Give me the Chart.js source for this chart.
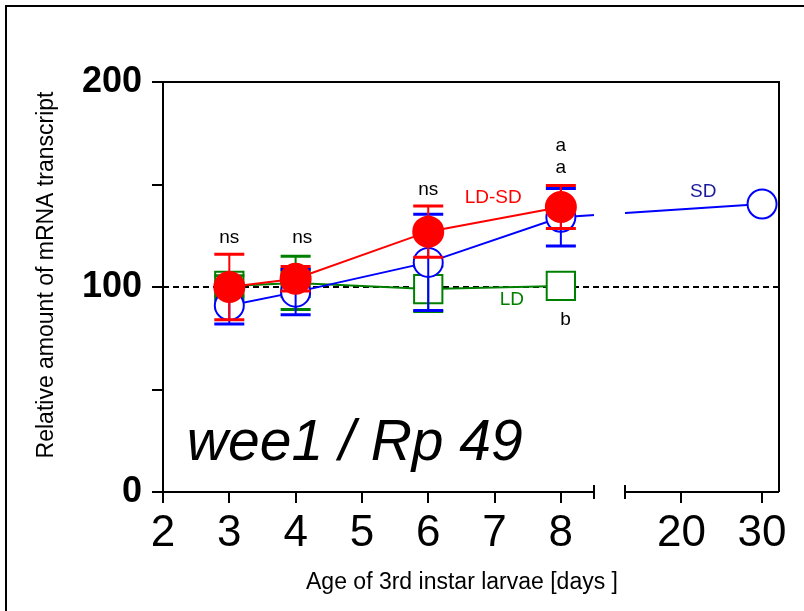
<!DOCTYPE html>
<html>
<head>
<meta charset="utf-8">
<script src="https://cdn.jsdelivr.net/npm/chart.js@4.4.1/dist/chart.umd.min.js"></script>
<style>
  html, body { margin: 0; padding: 0; background: #fff; }
</style>
</head>
<body>
<canvas id="myChart" width="804" height="611"></canvas>
<script>
// data
const days = [3, 4, 6, 8];
const sdDays = [3, 4, 6, 8, 30];
const ldsdValues = [100, 104, 127, 139];
const ldsdErrors = [16, 6, 12.5, 10.5];
const sdValues = [91, 97.5, 112, 134, 140.5];
const sdErrors = [9, 11, 23.5, 14, 0];
const ldValues = [100.5, 102, 99, 100.5];
const ldErrors = [5, 13, 11, 0];
const xTicks = [2, 3, 4, 5, 6, 7, 8, 20, 30];
const yTicks = [0, 50, 100, 150, 200];
const yLabels = ['0', '', '100', '', '200'];
const refLevel = 100;

const FONT = "'Liberation Sans', Arial, sans-serif";
const RED = '#ff0000', BLUE = '#0000ff', GREEN = '#008000', NAVY = '#1a1a9a';

// broken x axis: 2..8.5 | gap | 13..32.1
const segLeftEnd = 8.5, segRightStart = 13;
const gapFracA = 0.6997, gapFracB = 0.75;

class BrokenScale extends Chart.LinearScale {
  gapPixels() {
    const w = this.right - this.left;
    return [this.left + w * gapFracA, this.left + w * gapFracB];
  }
  getPixelForValue(v) {
    const [a, b] = this.gapPixels();
    if (v <= segLeftEnd) return this.left + (v - this.min) / (segLeftEnd - this.min) * (a - this.left);
    if (v >= segRightStart) return b + (v - segRightStart) / (this.max - segRightStart) * (this.right - b);
    return a + (v - segLeftEnd) / (segRightStart - segLeftEnd) * (b - a);
  }
  getValueForPixel(p) {
    const [a, b] = this.gapPixels();
    if (p <= a) return this.min + (p - this.left) / (a - this.left) * (segLeftEnd - this.min);
    if (p >= b) return segRightStart + (p - b) / (this.right - b) * (this.max - segRightStart);
    return segLeftEnd + (p - a) / (b - a) * (segRightStart - segLeftEnd);
  }
  buildTicks() {
    return xTicks.map(v => ({ value: v }));
  }
}
BrokenScale.id = 'broken';
BrokenScale.defaults = Chart.LinearScale.defaults;
Chart.register(BrokenScale);

const notes = [
  ['ns', 3, 124], ['ns', 4.1, 124], ['ns', 6, 147.3],
  ['a', 8, 169], ['a', 8, 158], ['b', 8.07, 84]
];
const seriesNotes = [
  ['LD-SD', 6.98, 143.4, RED], ['SD', 22.7, 146.3, NAVY], ['LD', 7.26, 93.7, GREEN]
];

const decor = {
  id: 'decor',
  beforeDatasetsDraw(chart) {
    const { ctx, chartArea: ca, scales: { y } } = chart;
    const py = y.getPixelForValue(refLevel);
    ctx.save();
    ctx.strokeStyle = '#000';
    ctx.lineWidth = 2;
    ctx.setLineDash([6, 4]);
    ctx.beginPath();
    ctx.moveTo(ca.left, py);
    ctx.lineTo(ca.right, py);
    ctx.stroke();
    ctx.restore();
  },
  beforeDatasetDraw(chart, args) {
    if (args.index !== 1) return;
    const { ctx, scales: { x } } = chart;
    const [a, b] = x.gapPixels();
    ctx.save();
    ctx.beginPath();
    ctx.rect(0, 0, a, chart.height);
    ctx.rect(b, 0, chart.width - b, chart.height);
    ctx.clip();
  },
  afterDatasetDraw(chart, args) {
    const { ctx, scales: { y } } = chart;
    if (args.index === 1) ctx.restore();
    const ds = chart.data.datasets[args.index];
    if (!ds.errorBars) return;
    ctx.save();
    ctx.strokeStyle = ds.borderColor;
    args.meta.data.forEach((pt, i) => {
      const e = ds.errorBars[i];
      if (!e) return;
      const v = ds.data[i].y;
      const yt = y.getPixelForValue(v + e), yb = y.getPixelForValue(v - e);
      ctx.lineWidth = 2;
      ctx.beginPath();
      ctx.moveTo(pt.x, yt);
      ctx.lineTo(pt.x, yb);
      ctx.stroke();
      ctx.lineWidth = 3;
      ctx.beginPath();
      ctx.moveTo(pt.x - 15, yt); ctx.lineTo(pt.x + 15, yt);
      ctx.moveTo(pt.x - 15, yb); ctx.lineTo(pt.x + 15, yb);
      ctx.stroke();
    });
    ctx.restore();
  },
  afterDraw(chart) {
    const { ctx, chartArea: ca, scales: { x, y } } = chart;
    const [a, b] = x.gapPixels();
    ctx.save();
    ctx.strokeStyle = '#000';
    ctx.lineWidth = 2;
    ctx.beginPath();
    // outer frame
    ctx.moveTo(6, chart.height); ctx.lineTo(6, 6); ctx.lineTo(chart.width, 6);
    // plot box top & right
    ctx.moveTo(ca.left, ca.top); ctx.lineTo(ca.right, ca.top); ctx.lineTo(ca.right, ca.bottom);
    // broken x axis
    ctx.moveTo(ca.left, ca.bottom); ctx.lineTo(a, ca.bottom);
    ctx.moveTo(b, ca.bottom); ctx.lineTo(ca.right, ca.bottom);
    ctx.moveTo(a, ca.bottom - 7); ctx.lineTo(a, ca.bottom + 7);
    ctx.moveTo(b, ca.bottom - 7); ctx.lineTo(b, ca.bottom + 7);
    ctx.stroke();

    ctx.textAlign = 'center';
    ctx.textBaseline = 'middle';
    ctx.fillStyle = '#000';
    ctx.font = '19px ' + FONT;
    notes.forEach(([t, dx, dy]) => ctx.fillText(t, x.getPixelForValue(dx), y.getPixelForValue(dy)));
    seriesNotes.forEach(([t, dx, dy, c]) => {
      ctx.fillStyle = c;
      ctx.fillText(t, x.getPixelForValue(dx), y.getPixelForValue(dy));
    });

    ctx.fillStyle = '#000';
    ctx.font = '23px ' + FONT;
    ctx.fillText('Age of 3rd instar larvae [days ]', 462, 583);
    ctx.save();
    ctx.translate(47, 275);
    ctx.rotate(-Math.PI / 2);
    ctx.fillText('Relative amount of mRNA transcript', 0, 0);
    ctx.restore();

    ctx.textAlign = 'left';
    ctx.textBaseline = 'alphabetic';
    ctx.font = 'italic 57px ' + FONT;
    ctx.fillText('wee1 / Rp 49', x.getPixelForValue(2.36), y.getPixelForValue(15.6));
    ctx.restore();
  }
};

const toPoints = (xs, ys) => xs.map((d, i) => ({ x: d, y: ys[i] }));

new Chart(document.getElementById('myChart'), {
  type: 'line',
  data: {
    datasets: [
      {
        label: 'LD-SD', data: toPoints(days, ldsdValues), errorBars: ldsdErrors,
        borderColor: RED, backgroundColor: RED, borderWidth: 2,
        pointRadius: 15, pointBackgroundColor: RED, pointBorderColor: RED, pointBorderWidth: 2
      },
      {
        label: 'SD', data: toPoints(sdDays, sdValues), errorBars: sdErrors,
        borderColor: BLUE, backgroundColor: '#fff', borderWidth: 2,
        pointRadius: 14.5, pointBackgroundColor: '#fff', pointBorderColor: BLUE, pointBorderWidth: 2
      },
      {
        label: 'LD', data: toPoints(days, ldValues), errorBars: ldErrors,
        borderColor: GREEN, backgroundColor: '#fff', borderWidth: 2,
        pointStyle: 'rect', pointRadius: 20, pointBackgroundColor: '#fff', pointBorderColor: GREEN, pointBorderWidth: 2
      }
    ]
  },
  options: {
    responsive: false,
    animation: false,
    layout: { padding: { top: 82, right: 25, left: 0, bottom: 0 } },
    plugins: { legend: { display: false }, tooltip: { enabled: false } },
    elements: { line: { tension: 0 } },
    scales: {
      x: {
        type: 'broken', min: 2, max: 32.1,
        border: { display: false },
        grid: { drawOnChartArea: false, drawTicks: true, tickLength: 11, color: '#000', lineWidth: 2 },
        ticks: { autoSkip: false, maxRotation: 0, padding: 4, color: '#000', font: { family: FONT, size: 44 } },
        afterFit(s) { s.height = 119; }
      },
      y: {
        min: 0, max: 200,
        afterBuildTicks(s) { s.ticks = yTicks.map(v => ({ value: v })); },
        border: { display: true, color: '#000', width: 2 },
        grid: { drawOnChartArea: false, drawTicks: true, tickLength: 11, color: '#000', lineWidth: 2 },
        ticks: {
          padding: 10, color: '#000', font: { family: FONT, size: 36, weight: 'bold' },
          callback: (v, i) => yLabels[i]
        },
        afterFit(s) { s.width = 163; }
      }
    }
  },
  plugins: [decor]
});
</script>
</body>
</html>
